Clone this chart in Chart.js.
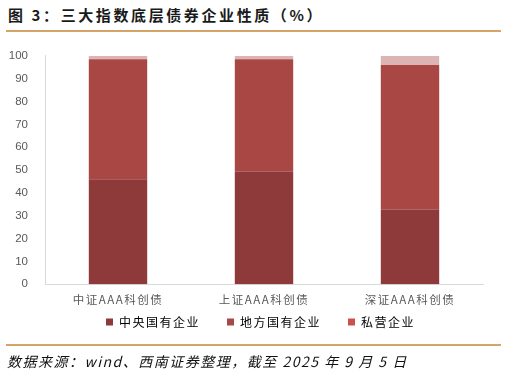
<!DOCTYPE html>
<html>
<head>
<meta charset="utf-8">
<script src="https://cdn.jsdelivr.net/npm/chart.js@4.4.0/dist/chart.umd.min.js"></script>
<style>
  body { margin: 0; width: 507px; height: 378px; background: #fff; position: relative; overflow: hidden; font-family: "Liberation Sans", "Noto Sans CJK SC", sans-serif; }
  #title { position: absolute; left: 8px; top: 4px; font-size: 15px; font-weight: bold; color: #1a1a1a; font-family: "Noto Sans CJK SC", sans-serif; letter-spacing: 2.6px; }
  .rule { position: absolute; left: 6px; width: 495px; height: 2px; background: #d4a468; }
  #footer { position: absolute; left: 7px; top: 351px; font-size: 14px; font-style: italic; color: #111; font-family: "Noto Sans CJK SC", sans-serif; letter-spacing: 1.5px; }
  #wrap { position: absolute; left: 0; top: 40px; width: 500px; height: 325px; }
</style>
</head>
<body>
<div id="title">图 3：三大指数底层债券企业性质（%）</div>
<div id="wrap"><canvas id="chart"></canvas></div>
<div class="rule" style="top:30px"></div>
<div class="rule" style="top:344px"></div>
<div id="footer">数据来源：wind、西南证券整理，截至 2025 年 9 月 5 日</div>
<script>
const categorie = ["中证AAA科创债", "上证AAA科创债", "深证AAA科创债"];
const centrale = [46, 49.3, 32.6];
const locale = [52.5, 49.2, 63.4];
const privato = [1.5, 1.5, 4.0];
const yTicks = [0, 10, 20, 30, 40, 50, 60, 70, 80, 90, 100];

const coloriLegenda = ["#8e3a3a", "#a84744", "#c9524f"];

// spaziatura lettere per etichette x e legenda; numeri dell'asse y senza
const spaziatura = {
  id: 'spaziatura',
  beforeUpdate: (chart) => { chart.ctx.letterSpacing = '1.5px'; },
  beforeDraw: (chart) => { chart.ctx.letterSpacing = '1.5px'; },
  afterDatasetsDraw: (chart) => { chart.ctx.letterSpacing = '0px'; },
  // legenda più vicina alle etichette dell'asse x
  afterLayout: (chart) => {
    const lg = chart.legend;
    lg.top -= 27;
    lg.bottom -= 27;
    lg.left += 19;
    lg.right += 19;
  }
};

new Chart(document.getElementById("chart"), {
  type: 'bar',
  data: {
    labels: categorie,
    datasets: [
      { label: '中央国有企业', data: centrale, backgroundColor: '#8e3a3a' },
      { label: '地方国有企业', data: locale, backgroundColor: '#a84744' },
      { label: '私营企业', data: privato, backgroundColor: '#ddb4b4' }
    ]
  },
  options: {
    responsive: true,
    maintainAspectRatio: false,
    animation: false,
    layout: { padding: { top: 11, right: 17, left: 0, bottom: 0 } },
    datasets: { bar: { barPercentage: 0.4, categoryPercentage: 1 } },
    scales: {
      x: {
        stacked: true,
        grid: { display: false, drawTicks: false },
        border: { color: '#d9d9d9', width: 1 },
        ticks: { color: '#595959', font: { size: 11.5, family: "Noto Sans CJK SC" }, padding: 9 }
      },
      y: {
        stacked: true,
        min: 0,
        max: 100,
        afterFit: (axis) => { axis.width = 45; },
        afterBuildTicks: (axis) => { axis.ticks = yTicks.map(v => ({ value: v })); },
        grid: { display: false },
        border: { color: '#d9d9d9', width: 1 },
        ticks: { z: 1, color: '#595959', font: { size: 11.5, family: "Liberation Sans" }, padding: 9 }
      }
    },
    plugins: {
      legend: {
        position: 'bottom',
        labels: {
          boxWidth: 7,
          boxHeight: 7,
          padding: 27,
          color: '#595959',
          font: { size: 12, family: "Noto Sans CJK SC" },
          generateLabels: (chart) => chart.data.datasets.map((d, i) => ({
            text: d.label,
            fillStyle: coloriLegenda[i],
            strokeStyle: coloriLegenda[i],
            lineWidth: 0,
            datasetIndex: i
          }))
        }
      },
      tooltip: { enabled: false }
    }
  },
  plugins: [spaziatura]
});
</script>
</body>
</html>
